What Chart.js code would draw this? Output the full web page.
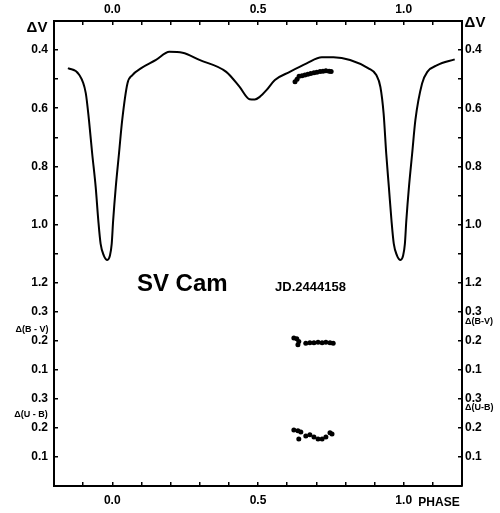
<!DOCTYPE html>
<html>
<head>
<meta charset="utf-8">
<script src="https://cdn.jsdelivr.net/npm/chart.js@4.4.1/dist/chart.umd.min.js"></script>
<style>
    body { margin: 0; background: #fff; }
    #wrap { width: 500px; height: 513px; }
</style>
</head>
<body>
<div id="wrap"><canvas id="chart" width="500" height="513"></canvas></div>
<script>
// light curve of SV Cam (V)
const curvePhase = [-0.152, -0.115, -0.091, -0.080, -0.069, -0.057, -0.048, -0.040, -0.029, -0.017,
    -0.008, -0.002, 0.003, 0.012, 0.023, 0.034, 0.052, 0.069, 0.098, 0.150,
    0.196, 0.241, 0.299, 0.391, 0.437, 0.471, 0.489, 0.506, 0.529, 0.558,
    0.609, 0.667, 0.719, 0.759, 0.816, 0.879, 0.906, 0.920, 0.931, 0.940,
    0.949, 0.958, 0.966, 0.977, 0.989, 0.998, 1.004, 1.009, 1.018, 1.029,
    1.040, 1.063, 1.081, 1.115, 1.175];
const curveV = [0.462, 0.483, 0.548, 0.641, 0.756, 0.871, 0.986, 1.067, 1.107, 1.122,
    1.107, 1.067, 0.986, 0.871, 0.756, 0.641, 0.515, 0.486, 0.463, 0.434,
    0.406, 0.409, 0.434, 0.475, 0.527, 0.569, 0.570, 0.561, 0.538, 0.503,
    0.475, 0.446, 0.425, 0.425, 0.434, 0.463, 0.486, 0.527, 0.618, 0.756,
    0.871, 0.986, 1.067, 1.107, 1.122, 1.107, 1.067, 0.986, 0.871, 0.756,
    0.641, 0.515, 0.475, 0.452, 0.432];

// observations on JD 2444158
const obsVPhase = [0.627, 0.634, 0.641, 0.651, 0.661, 0.671, 0.681, 0.692, 0.702, 0.713, 0.723, 0.733, 0.744, 0.751];
const obsV = [0.509, 0.500, 0.490, 0.488, 0.486, 0.483, 0.481, 0.478, 0.476, 0.474, 0.473, 0.471, 0.473, 0.474];

const obsBVPhase = [0.623, 0.633, 0.640, 0.637, 0.664, 0.678, 0.692, 0.706, 0.720, 0.733, 0.747, 0.758];
const obsBV = [0.209, 0.207, 0.197, 0.186, 0.191, 0.193, 0.193, 0.195, 0.193, 0.195, 0.193, 0.191];

const obsUBPhase = [0.623, 0.637, 0.647, 0.640, 0.664, 0.678, 0.692, 0.706, 0.720, 0.733, 0.747, 0.754];
const obsUB = [0.193, 0.190, 0.186, 0.162, 0.172, 0.176, 0.169, 0.162, 0.162, 0.169, 0.183, 0.179];

// axis ticks
const phaseTicks = [-0.1, 0, 0.1, 0.2, 0.3, 0.4, 0.5, 0.6, 0.7, 0.8, 0.9, 1.0, 1.1];
const phaseLabels = ['', '0.0', '', '', '', '', '0.5', '', '', '', '', '1.0', ''];
const vTicks = [0.4, 0.5, 0.6, 0.7, 0.8, 0.9, 1.0, 1.1, 1.2];
const vLabels = ['0.4', '', '0.6', '', '0.8', '', '1.0', '', '1.2'];
const bvTicks = [0.3, 0.2, 0.1];
const bvLabels = ['0.3', '0.2', '0.1'];
const ubTicks = [0.3, 0.2, 0.1];
const ubLabels = ['0.3', '0.2', '0.1'];

// the colour panels share the V axis, shifted below it
const BV_ZERO = 1.6;
const UB_ZERO = 1.9;

const FONT = "'Liberation Sans Narrow', 'Liberation Sans', Arial, sans-serif";

const toXY = (xs, ys, f) => xs.map((x, i) => ({ x: x, y: f ? f(ys[i]) : ys[i] }));

const yTickList = vTicks.map((v, i) => ({ value: v, label: vLabels[i] }))
    .concat(bvTicks.map((v, i) => ({ value: BV_ZERO - v, label: bvLabels[i] })))
    .concat(ubTicks.map((v, i) => ({ value: UB_ZERO - v, label: ubLabels[i] })));

function yLabel(value) {
    const t = yTickList.find(t => Math.abs(t.value - value) < 1e-6);
    return t ? t.label : '';
}
function xLabel(value) {
    const i = phaseTicks.findIndex(t => Math.abs(t - value) < 1e-6);
    return i >= 0 ? phaseLabels[i] : '';
}

function axisCommon(extra) {
    return Object.assign({
        grid: { drawOnChartArea: false, drawTicks: true, tickLength: -4, color: '#000', lineWidth: 1.5 },
        border: { display: true, color: '#000', width: 2 },
        ticks: { color: '#000', font: { family: FONT, size: 12, weight: 'bold' }, autoSkip: false, maxRotation: 0 }
    }, extra);
}

const textPlugin = {
    id: 'texts',
    afterDraw(chart) {
        const ctx = chart.ctx;
        const a = chart.chartArea;
        const xs = chart.scales.x, ys = chart.scales.y;
        ctx.save();
        ctx.fillStyle = '#000';
        ctx.textBaseline = 'middle';
        ctx.textAlign = 'center';

        ctx.font = "bold 15px " + FONT;
        ctx.fillText('ΔV', a.left - 17, a.top + 7);
        ctx.fillText('ΔV', a.right + 13, a.top + 2);

        ctx.font = "bold 9px " + FONT;
        ctx.fillText('Δ(B - V)', a.left - 22, ys.getPixelForValue(BV_ZERO - 0.24));
        ctx.fillText('Δ(U - B)', a.left - 23, ys.getPixelForValue(UB_ZERO - 0.245));
        ctx.textAlign = 'left';
        ctx.fillText('Δ(B-V)', a.right + 3, ys.getPixelForValue(BV_ZERO - 0.265));
        ctx.fillText('Δ(U-B)', a.right + 3, ys.getPixelForValue(UB_ZERO - 0.27));

        ctx.textAlign = 'center';
        ctx.font = "bold 12px " + FONT;
        ctx.fillText('PHASE', a.right - 23, a.bottom + 17);

        ctx.font = "bold 24px 'Liberation Sans', Arial, sans-serif";
        ctx.fillText('SV Cam', xs.getPixelForValue(0.24), ys.getPixelForValue(1.205));
        ctx.font = "bold 13px " + FONT;
        ctx.fillText('JD.2444158', xs.getPixelForValue(0.68), ys.getPixelForValue(1.215));
        ctx.restore();
    }
};

const dotStyle = {
    type: 'scatter',
    showLine: false,
    pointRadius: 2.5,
    pointBackgroundColor: '#000',
    pointBorderWidth: 0
};

new Chart(document.getElementById('chart'), {
    type: 'scatter',
    data: {
        datasets: [
            {
                label: 'V light curve',
                data: toXY(curvePhase, curveV),
                showLine: true,
                borderColor: '#000',
                borderWidth: 2,
                pointRadius: 0,
                cubicInterpolationMode: 'monotone',
                fill: false
            },
            Object.assign({ label: 'V obs', data: toXY(obsVPhase, obsV) }, dotStyle),
            Object.assign({ label: 'B-V obs', data: toXY(obsBVPhase, obsBV, v => BV_ZERO - v) }, dotStyle),
            Object.assign({ label: 'U-B obs', data: toXY(obsUBPhase, obsUB, v => UB_ZERO - v) }, dotStyle)
        ]
    },
    options: {
        responsive: false,
        animation: false,
        devicePixelRatio: 1,
        layout: { padding: 0 },
        plugins: { legend: { display: false }, tooltip: { enabled: false } },
        scales: {
            x: axisCommon({
                type: 'linear', position: 'bottom', min: -0.2, max: 1.2,
                afterBuildTicks: s => { s.ticks = phaseTicks.map(v => ({ value: v })); },
                afterFit: s => { s.height = 27; },
                ticks: { color: '#000', font: { family: FONT, size: 12, weight: 'bold' }, padding: 11,
                    autoSkip: false, maxRotation: 0, callback: v => xLabel(v) }
            }),
            x2: axisCommon({
                type: 'linear', position: 'top', min: -0.2, max: 1.2,
                afterBuildTicks: s => { s.ticks = phaseTicks.map(v => ({ value: v })); },
                afterFit: s => { s.height = 21; },
                ticks: { color: '#000', font: { family: FONT, size: 12, weight: 'bold' }, padding: 8,
                    autoSkip: false, maxRotation: 0, callback: v => xLabel(v) }
            }),
            y: axisCommon({
                type: 'linear', position: 'left', min: 0.3, max: 1.9, reverse: true,
                afterBuildTicks: s => { s.ticks = yTickList.map(t => ({ value: t.value })); },
                afterFit: s => { s.width = 54; },
                ticks: { color: '#000', font: { family: FONT, size: 12, weight: 'bold' }, padding: 10,
                    autoSkip: false, callback: v => yLabel(v) }
            }),
            y2: axisCommon({
                type: 'linear', position: 'right', min: 0.3, max: 1.9, reverse: true,
                afterBuildTicks: s => { s.ticks = yTickList.map(t => ({ value: t.value })); },
                afterFit: s => { s.width = 38; },
                ticks: { color: '#000', font: { family: FONT, size: 12, weight: 'bold' }, padding: 7,
                    autoSkip: false, callback: v => yLabel(v) }
            })
        }
    },
    plugins: [textPlugin]
});
</script>
</body>
</html>
